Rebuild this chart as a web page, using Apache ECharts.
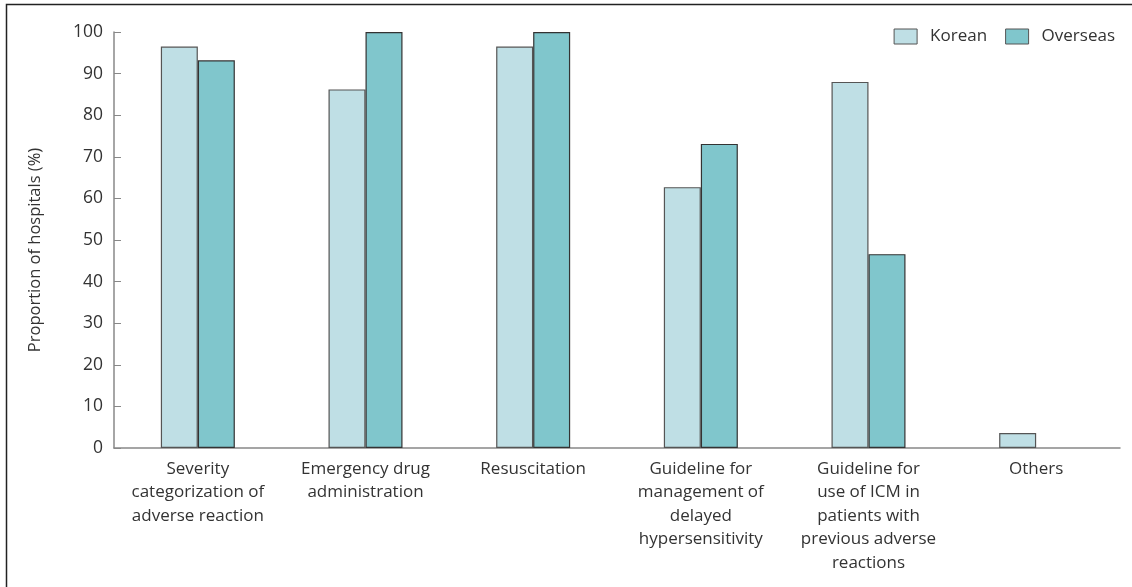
<!DOCTYPE html>
<html><head><meta charset="utf-8">
<script src="https://cdn.jsdelivr.net/npm/echarts@6/dist/echarts.min.js"></script>
<style>html,body{margin:0;padding:0;background:#fff}#c{width:1132px;height:587px}</style>
</head><body><div id="c"></div>
<script>
const categories = ['Severity\ncategorization of\nadverse reaction','Emergency drug\nadministration','Resuscitation','Guideline for\nmanagement of\ndelayed\nhypersensitivity','Guideline for\nuse of ICM in\npatients with\nprevious adverse\nreactions','Others'];
const korean = [96.5, 86.2, 96.5, 62.7, 88.0, 3.6];
const overseas = [93.2, 100, 100, 73.1, 46.6, 0];
const seriesNames = ['Korean','Overseas'];
const yTicks = {min:0, max:100, interval:10};
const FONT = '"Open Sans", "Noto Sans", sans-serif';
const hideZero = arr => arr.map(v => v === 0 ? '-' : v);
const chart = echarts.init(document.getElementById('c'));
chart.setOption({
  animation:false,
  textStyle:{fontFamily:FONT},
  graphic:[{type:'rect',shape:{x:6.5,y:4.5,width:1140,height:600},style:{fill:'none',stroke:'#222',lineWidth:1.5},silent:true}],
  legend:{right:12,top:23,itemWidth:23,itemHeight:15,itemGap:18,icon:'rect',
    itemStyle:{borderColor:'#555',borderWidth:1},
    textStyle:{fontSize:17,color:'#333',fontFamily:FONT,padding:[0,0,0,8]},
    data:seriesNames},
  grid:{left:114,right:12,top:32,bottom:139,containLabel:false},
  xAxis:{type:'category',data:categories,
    axisLine:{lineStyle:{color:'#888',width:1.5}},axisTick:{show:false},
    axisLabel:{fontSize:17,color:'#333',lineHeight:23.5,interval:0,margin:9,fontFamily:FONT}},
  yAxis:{type:'value',min:yTicks.min,max:yTicks.max,interval:yTicks.interval,
    name:'Proportion of hospitals (%)',nameLocation:'middle',nameGap:70,nameRotate:90,
    nameTextStyle:{fontSize:16.5,color:'#333',fontFamily:FONT,padding:[0,0,0,-20]},
    axisLine:{show:true,lineStyle:{color:'#888',width:1.5}},
    axisTick:{show:true,inside:true,length:7,lineStyle:{color:'#888'}},
    splitLine:{show:false},
    axisLabel:{fontSize:17.5,color:'#333',margin:11,fontFamily:FONT}},
  series:[
    {name:seriesNames[0],type:'bar',data:hideZero(korean),barWidth:37,barGap:'0%',
      itemStyle:{color:'#bfdfe5',borderColor:'#555',borderWidth:1.2}},
    {name:seriesNames[1],type:'bar',data:hideZero(overseas),barWidth:37,barGap:'0%',
      itemStyle:{color:'#80c6cc',borderColor:'#333',borderWidth:1.2}}
  ]
});
</script></body></html>
